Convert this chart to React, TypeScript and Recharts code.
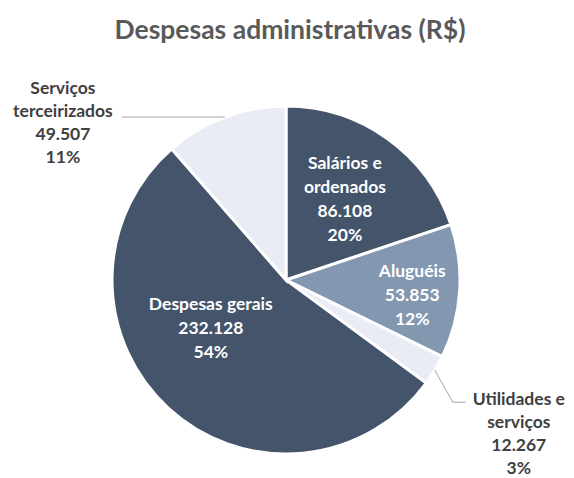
import React from "react";
import { PieChart, Pie, Cell } from "recharts";

const categories = [
  ["Salários e", "ordenados"],
  ["Aluguéis"],
  ["Utilidades e", "serviços"],
  ["Despesas gerais"],
  ["Serviços", "terceirizados"],
];
const names = ["Salários e ordenados", "Aluguéis", "Utilidades e serviços", "Despesas gerais", "Serviços terceirizados"];
const values = [86108, 53853, 12267, 232128, 49507];
const valueLabels = ["86.108", "53.853", "12.267", "232.128", "49.507"];
const percentLabels = ["20%", "12%", "3%", "54%", "11%"];
const colors = ["#44546A", "#8497B0", "#E9EBF5", "#44546A", "#E9EBF5"];

const data = names.map((n, i) => ({ name: n, value: values[i] }));

const FONT = "Lato, 'Open Sans', sans-serif";
const RAD = Math.PI / 180;
const LH = 24;
const FS = 17.5;

// per-slice label layout: inside (radius factor, angle offset) or outside leader
const layout: any[] = [
  { inside: true, rf: 0.58, da: 0 },
  { inside: true, rf: 0.73, da: -2.6 },
  { inside: false, side: "right", bend: [18, 32], run: 13 },
  { inside: true, rf: 0.51, da: -15.3 },
  { inside: false, side: "left", bend: [0, 0], run: -103 },
];

const renderLabel = (props: any) => {
  const { cx, cy, midAngle, outerRadius, index } = props;
  const cfg = layout[index];
  const lines = [...categories[index], valueLabels[index], percentLabels[index]];
  if (cfg.inside) {
    const a = (midAngle + cfg.da) * RAD;
    const r = outerRadius * cfg.rf;
    const x = cx + r * Math.cos(a);
    const y = cy - r * Math.sin(a);
    const y0 = y - ((lines.length - 1) * LH) / 2;
    return (
      <text x={x} y={y0} fill="#FFFFFF" textAnchor="middle" dominantBaseline="central" fontFamily={FONT} fontWeight={700} fontSize={FS}>
        {lines.map((l, i) => (
          <tspan key={i} x={x} y={y0 + i * LH}>{l}</tspan>
        ))}
      </text>
    );
  }
  const a = midAngle * RAD;
  const sx = cx + outerRadius * Math.cos(a);
  const sy = cy - outerRadius * Math.sin(a);
  const bx = sx + cfg.bend[0];
  const by = sy + cfg.bend[1];
  const ex = bx + cfg.run;
  const ey = by;
  let tx: number, y0: number;
  if (cfg.side === "right") {
    tx = ex + 53;
    y0 = ey - 4;
  } else {
    tx = ex - 59;
    y0 = ey - 30;
  }
  return (
    <g>
      <path d={`M${sx},${sy}L${bx},${by}L${ex},${ey}`} stroke="#A6A6A6" strokeWidth={1} fill="none" />
      <text x={tx} y={y0} fill="#404040" textAnchor="middle" dominantBaseline="central" fontFamily={FONT} fontWeight={700} fontSize={FS}>
        {lines.map((l, i) => (
          <tspan key={i} x={tx} y={y0 + i * (LH - 1)}>{l}</tspan>
        ))}
      </text>
    </g>
  );
};

export default function App() {
  return (
    <div style={{ position: "absolute", left: 0, top: 0, width: 574, height: 478, background: "#fff" }}>
      <PieChart width={574} height={478} margin={{ top: 0, right: 0, bottom: 0, left: 0 }}>
        <Pie
          data={data}
          dataKey="value"
          nameKey="name"
          cx={286}
          cy={280}
          outerRadius={174}
          startAngle={90}
          endAngle={-270}
          stroke="#FFFFFF"
          strokeWidth={3}
          label={renderLabel}
          labelLine={false}
          isAnimationActive={false}
        >
          {data.map((d, i) => (
            <Cell key={d.name} fill={colors[i]} />
          ))}
        </Pie>
      </PieChart>
      <div
        style={{
          position: "absolute",
          left: 0,
          top: 12,
          width: 580,
          textAlign: "center",
          fontFamily: FONT,
          fontWeight: 700,
          fontSize: 26.5,
          color: "#595959",
          lineHeight: "34px",
        }}
      >
        Despesas administrativas (R$)
      </div>
    </div>
  );
}
